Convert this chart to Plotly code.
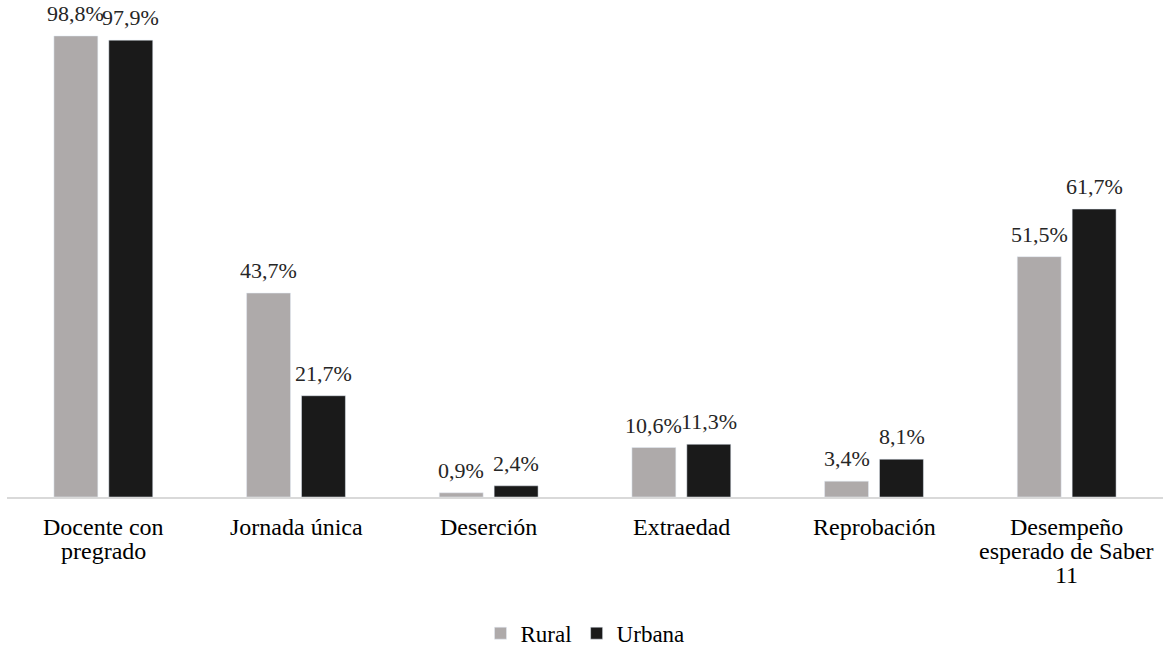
import plotly.graph_objects as go

categories = ["Docente con<br>pregrado", "Jornada única", "Deserción", "Extraedad",
              "Reprobación", "Desempeño<br>esperado de Saber<br>11"]
rural = [98.8, 43.7, 0.9, 10.6, 3.4, 51.5]
urbana = [97.9, 21.7, 2.4, 11.3, 8.1, 61.7]

def fmt(v):
    return f"{v:.1f}".replace(".", ",") + "%"

FONT = "Liberation Serif"

fig = go.Figure()
fig.add_trace(go.Bar(name="Rural", x=categories, y=rural, marker_color="#AEAAAA"))
fig.add_trace(go.Bar(name="Urbana", x=categories, y=urbana, marker_color="#1A1A1A"))

# value labels above bars
for series, dx in ((rural, -27.5), (urbana, 27.5)):
    for cat, v in zip(categories, series):
        fig.add_annotation(x=cat, y=v, xref="x", yref="y", text=fmt(v), showarrow=False,
                           yanchor="bottom", xanchor="center", xshift=dx, yshift=8,
                           font=dict(family=FONT, size=22, color="#262626"))

# category labels as annotations (to control line spacing)
for cat in categories:
    for k, line in enumerate(cat.split("<br>")):
        fig.add_annotation(x=cat, y=0, xref="x", yref="y", text=line, showarrow=False,
                           yanchor="middle", xanchor="center", yshift=-30 - 24 * k,
                           font=dict(family=FONT, size=24, color="#000000"))

fig.update_layout(
    width=1170, height=647,
    margin=dict(l=7, r=7, t=7, b=150, autoexpand=False),
    barmode="group", bargap=0.43, bargroupgap=0.2,
    plot_bgcolor="white", paper_bgcolor="white",
    font=dict(family=FONT, size=22, color="#000000"),
    showlegend=True,
    legend=dict(orientation="h", x=0.5, xanchor="center", y=-0.278, yanchor="middle",
                font=dict(size=23, family=FONT), itemwidth=30, traceorder="normal"),
)
fig.update_xaxes(showline=True, linecolor="#D9D9D9", linewidth=1.5, ticks="",
                 showticklabels=False)
fig.update_yaxes(range=[0, 105], visible=False, showgrid=False)

fig.write_html("out.html")
